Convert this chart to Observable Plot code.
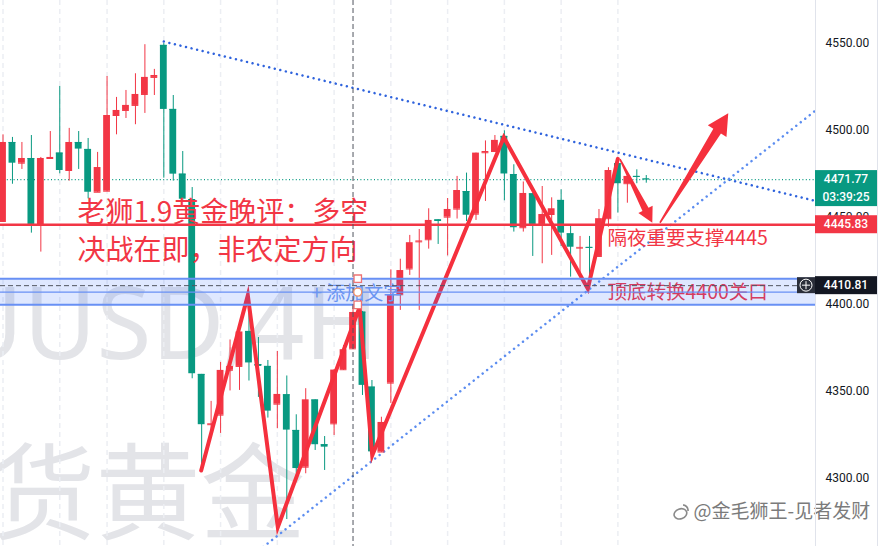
<!DOCTYPE html>
<html>
<head>
<meta charset="utf-8">
<script src="https://cdn.jsdelivr.net/npm/d3@7"></script>
<script src="https://cdn.jsdelivr.net/npm/@observablehq/plot@0.6"></script>
<style>
  html, body { margin: 0; padding: 0; background: #ffffff; overflow: hidden; }
  #chart svg { display: block; }
</style>
</head>
<body>
<div id="chart"></div>
<script>
// ---- XAUUSD 4H candles (bar index = position in arrays) ----
const opens  = [4447.7,4493.1,4481.2,4483.9,4445.6,4483.9,4487.0,4477.0,4493.1,4489.1,
                4464.5,4465.1,4508.6,4511.5,4514.4,4520.7,4530.5,4548.9,4512.1,4474.9,
                4460.3,4359.8,4330.9,4336.4,4362.2,4364.4,4384.5,4365.5,4364.4,4342.7,
                4348.1,4327.6,4306.5,4345.1,4319.4,4331.4,4362.5,4374.5,4395.6,4352.5,
                4315.2,4354.8,4405.6,4420.4,4436.0,4437.2,4448.6,4450.2,4454.8,4464.9,
                4451.9,4487.2,4487.9,4496.6,4474.7,4444.1,4463.6,4446.0,4451.7,4459.8,
                4440.6,4432.4,4432.8,4427.6,4449.3,4480.9,4469.4,4473.6,4472.1];
const highs  = [4497.5,4496.0,4493.1,4497.1,4484.5,4499.4,4525.3,4501.2,4499.4,4495.4,
                4487.4,4531.0,4519.0,4523.0,4532.6,4549.3,4535.1,4550.0,4520.1,4487.9,
                4467.2,4359.8,4344.3,4366.7,4379.6,4387.4,4399.4,4381.0,4367.8,4373.0,
                4358.9,4336.6,4351.6,4345.2,4324.1,4362.5,4376.4,4398.9,4396.0,4356.3,
                4335.2,4419.9,4426.0,4439.7,4443.1,4455.0,4448.7,4460.9,4473.6,4475.5,
                4487.0,4494.0,4497.1,4499.8,4480.3,4470.4,4464.0,4467.8,4461.3,4465.9,
                4445.4,4439.1,4439.1,4454.6,4478.6,4482.8,4474.1,4477.4,4474.1];
const lows   = [4447.1,4469.1,4477.6,4441.0,4430.1,4483.6,4475.1,4470.9,4477.6,4460.7,
                4464.4,4464.9,4497.5,4506.9,4503.3,4509.8,4520.1,4472.6,4470.9,4459.8,
                4357.3,4303.6,4323.7,4325.9,4350.3,4350.6,4356.0,4346.6,4334.7,4328.6,
                4276.4,4302.7,4302.7,4316.1,4304.6,4324.7,4362.1,4374.1,4347.7,4310.1,
                4314.9,4343.1,4396.6,4416.7,4396.6,4431.8,4434.5,4427.9,4449.1,4447.7,
                4448.3,4459.2,4487.6,4459.6,4441.6,4441.6,4427.6,4423.4,4428.2,4433.3,
                4415.7,4415.7,4413.8,4427.3,4444.4,4452.5,4458.2,4469.4,4469.7];
const closes = [4493.1,4481.2,4483.9,4446.0,4483.9,4484.5,4477.0,4493.1,4489.3,4464.5,
                4478.7,4508.6,4511.5,4514.4,4520.7,4530.5,4531.6,4512.1,4474.9,4460.5,
                4360.2,4330.9,4331.4,4362.1,4364.4,4384.2,4366.4,4364.4,4338.7,4348.3,
                4327.8,4305.7,4345.2,4319.4,4318.0,4362.3,4374.0,4395.4,4353.5,4315.3,
                4332.2,4405.2,4419.5,4435.5,4436.5,4448.3,4447.7,4454.6,4465.5,4451.3,
                4487.0,4487.9,4494.3,4475.0,4444.1,4463.8,4446.0,4451.7,4455.0,4441.0,
                4432.9,4432.8,4432.4,4449.3,4477.0,4469.4,4473.6,4473.1,4471.77];

// ---- price axis ----
const yTicks = [4300, 4350, 4400, 4450, 4500, 4550];
const lastPrice = 4471.77;
const countdown = "03:39:25";
const supportPrice = 4445.83;
const crossPrice = 4410.81;
const crossBar = 37;
const gridBars = [0, 6, 11, 17, 23, 29, 35, 41, 47, 53, 59, 65];

// ---- drawings ----
const descTrendBars   = [17, 85.9];
const descTrendPrices = [4551.1, 4459.5];
const ascTrendBars    = [27.5, 85.9];
const ascTrendPrices  = [4260.6, 4511.5];
const zigBars   = [20.95, 25.88, 29.05, 37.69, 39.03, 52.94, 61.82, 64.99];
const zigPrices = [4304.6, 4405.2, 4272.0, 4398.4, 4313.2, 4496.1, 4409.0, 4483.7];
const arrowTailBars   = [65.27, 69.5];
const arrowTailPrices = [4483.2, 4446.7];
const arrowTipBars    = [68.69, 76.72];
const arrowTipPrices  = [4446.7, 4509.6];
const zoneLow = 4399.8, zoneMid = 4407.1, zoneHigh = 4414.8;
const handleBar = 37.5;

// ---- texts ----
const headline = ["老狮1.9黄金晚评：多空", "决战在即，非农定方向"];
const headlineBar = 7.875;
const headlinePrices = [4452.3, 4430.6];
const notes = ["隔夜重要支撑4445", "顶底转换4400关口"];
const noteBar = 63.9;
const notePrices = [4437.9, 4406.6];
const zonePlaceholder = "+ 添加文字";
const placeholderBar = 32.61;
const placeholderPrice = 4406.3;
const symbolMark = "XAUUSD,4H";
const symbolMarkBar = 39.7, symbolMarkPrice = 4386.8;
const descMark = "现货黄金";
const descMarkBar = 31.98, descMarkPrice = 4289.4;
const credit = "@金毛狮王-见者发财";
const creditBar = 73.0, creditPrice = 4280.5;

// ---- styling ----
const UP = "#f23645", DOWN = "#089981";
const CJK = "'Noto Sans CJK SC', 'Noto Sans', sans-serif";
const W = 882, H = 546, PANE_R = 67;
const BAR_PX = 9.46, FIRST_PX = 2.5;
const xDomain = [-FIRST_PX / BAR_PX, (W - PANE_R - FIRST_PX) / BAR_PX];
const yDomain = [4260.9, 4574.7];

const candles = opens.map((o, i) => ({i, o, h: highs[i], l: lows[i], c: closes[i]}));
const ups = candles.filter(d => d.c >= d.o);
const downs = candles.filter(d => d.c < d.o);
const pts = (bars, prices) => bars.map((b, k) => ({b, p: prices[k]}));
const BW = 0.36;

function candleMarks(data, color) {
  return [
    Plot.ruleX(data, {x: "i", y1: "l", y2: "h", stroke: color, strokeWidth: 1}),
    Plot.rect(data, {x1: d => d.i - BW, x2: d => d.i + BW, y1: "o", y2: "c", fill: color}),
    Plot.ruleY(data, {y: "o", x1: d => d.i - BW, x2: d => d.i + BW, stroke: color, strokeWidth: 1})
  ];
}

const dotted = {strokeWidth: 2.5, strokeDasharray: "0.01 5.7", strokeLinecap: "round", clip: true};

const chart = Plot.plot({
  width: W, height: H,
  marginLeft: 0, marginRight: PANE_R, marginTop: 0, marginBottom: 0,
  style: {background: "#ffffff", fontFamily: "Roboto, 'Liberation Sans', sans-serif", fontSize: "12px", color: "#131722"},
  x: {domain: xDomain, axis: null},
  y: {domain: yDomain, axis: "right", ticks: yTicks, tickFormat: d => d.toFixed(2), tickSize: 0, tickPadding: 10, label: null},
  marks: [
    // background watermark
    Plot.text([symbolMark], {x: () => symbolMarkBar, y: () => symbolMarkPrice, text: d => d, fontSize: 100,
      fontFamily: "'Noto Sans', sans-serif", textAnchor: "end", fill: "#e3e4e8"}),
    Plot.text([descMark], {x: () => descMarkBar, y: () => descMarkPrice, text: d => d, fontSize: 105,
      fontFamily: CJK, textAnchor: "end", fill: "#e3e4e8"}),
    // time grid
    Plot.ruleX(gridBars, {stroke: "#eceef3", strokeWidth: 1.5, strokeDasharray: "5 4"}),
    // last price line
    Plot.ruleY([lastPrice], {stroke: DOWN, strokeWidth: 1.2, strokeDasharray: "1 2.4"}),
    // trend lines
    Plot.line(pts(descTrendBars, descTrendPrices), {x: "b", y: "p", stroke: "#2f63dd", ...dotted}),
    Plot.line(pts(ascTrendBars, ascTrendPrices), {x: "b", y: "p", stroke: "#5c8df0", ...dotted}),
    // candles
    ...candleMarks(ups, UP),
    ...candleMarks(downs, DOWN),
    // support line
    Plot.ruleY([supportPrice], {stroke: UP, strokeWidth: 2.6}),
    // swing path
    Plot.line(pts(zigBars, zigPrices), {x: "b", y: "p", stroke: "#f5303d", strokeWidth: 4, strokeLinejoin: "miter", strokeMiterlimit: 10}),
    // annotations
    Plot.text(headline, {x: () => headlineBar, y: (d, k) => headlinePrices[k], text: d => d, fontSize: 28,
      fontFamily: CJK, textAnchor: "start", fill: UP}),
    Plot.text(notes, {x: () => noteBar, y: (d, k) => notePrices[k], text: d => d, fontSize: 19.5,
      fontFamily: CJK, textAnchor: "start", fill: UP}),
    // price zone
    Plot.rect([0], {x1: () => xDomain[0], x2: () => xDomain[1], y1: () => zoneLow, y2: () => zoneHigh, fill: "#2962ff", fillOpacity: 0.15}),
    Plot.ruleY([zoneLow, zoneHigh], {stroke: "#6890f4", strokeWidth: 2}),
    Plot.ruleY([zoneMid], {stroke: "#6890f4", strokeWidth: 1.3}),
    Plot.text([zonePlaceholder], {x: () => placeholderBar, y: () => placeholderPrice, text: d => d, fontSize: 19,
      fontFamily: CJK, textAnchor: "start", fill: "#6a94f2"}),
    // crosshair
    Plot.ruleX([crossBar], {stroke: "#50535e", strokeWidth: 1, strokeDasharray: "5 3"}),
    Plot.ruleY([crossPrice], {stroke: "#50535e", strokeWidth: 1, strokeDasharray: "5 3"}),
    // selection handles on the zone
    Plot.dot([zoneLow, zoneHigh], {x: () => handleBar, y: d => d, symbol: "square", r: 4.2, fill: "#ffffff", stroke: "#ee7373", strokeWidth: 1.3}),
    Plot.dot([zoneMid], {x: () => handleBar, y: d => d, symbol: "circle", r: 4, fill: "#ffffff", stroke: "#f39064", strokeWidth: 1.3}),
    // author credit
    Plot.text([credit], {x: () => creditBar, y: () => creditPrice, text: d => d, fontSize: 19,
      fontFamily: CJK, textAnchor: "start", fill: "#7b7b7b", stroke: "#ffffff", strokeWidth: 3})
  ]
});

document.getElementById("chart").appendChild(chart);

// ---- overlays drawn with the plot's own scales ----
const sx = chart.scale("x"), sy = chart.scale("y");
const svg = d3.select(chart);
const paneRight = W - PANE_R;

function arrowPath(t, p, headLen, headHalf, shaftHalf, tailHalf) {
  const dx = p[0] - t[0], dy = p[1] - t[1], L = Math.hypot(dx, dy);
  const ux = dx / L, uy = dy / L, nx = -uy, ny = ux;
  const bx = p[0] - ux * headLen, by = p[1] - uy * headLen;
  const q = [
    [t[0] + nx * tailHalf, t[1] + ny * tailHalf],
    [bx + nx * shaftHalf, by + ny * shaftHalf],
    [bx + nx * headHalf, by + ny * headHalf],
    p,
    [bx - nx * headHalf, by - ny * headHalf],
    [bx - nx * shaftHalf, by - ny * shaftHalf],
    [t[0] - nx * tailHalf, t[1] - ny * tailHalf]
  ];
  return "M" + q.map(d => d.join(",")).join("L") + "Z";
}
const arrowSizes = [[15, 8, 3.4, 0.8], [21, 11, 4.5, 0.8]];
arrowTailBars.forEach((b, k) => {
  const t = [sx.apply(b), sy.apply(arrowTailPrices[k])];
  const p = [sx.apply(arrowTipBars[k]), sy.apply(arrowTipPrices[k])];
  const [hl, hh, sh, th] = arrowSizes[k];
  svg.append("path").attr("d", arrowPath(t, p, hl, hh, sh, th)).attr("fill", "#f5303d");
});

// pane border lines
svg.append("line").attr("x1", paneRight + 0.5).attr("x2", paneRight + 0.5).attr("y1", 0).attr("y2", H)
  .attr("stroke", "#e0e3eb");
svg.append("line").attr("x1", W - 4.5).attr("x2", W - 4.5).attr("y1", 0).attr("y2", H)
  .attr("stroke", "#e0e3eb");

// price labels on the axis
function priceTag(value, fill, lines) {
  const yc = sy.apply(value);
  const h = 18, extra = (lines.length - 1) * 18;
  svg.append("rect").attr("x", paneRight).attr("y", yc - h / 2).attr("width", 62).attr("height", h + extra)
    .attr("fill", fill);
  lines.forEach((s, k) => {
    svg.append("text").attr("x", paneRight + 31).attr("y", yc + k * 18).attr("dy", "0.35em")
      .attr("text-anchor", "middle").attr("fill", "#ffffff")
      .attr("font-family", "Roboto, 'Liberation Sans', sans-serif").attr("font-size", 12).attr("font-weight", 500)
      .text(s);
  });
}
priceTag(lastPrice, DOWN, [lastPrice.toFixed(2), countdown]);
priceTag(supportPrice, UP, [supportPrice.toFixed(2)]);
priceTag(crossPrice, "#131722", [crossPrice.toFixed(2)]);

// crosshair "add" button
{
  const yc = sy.apply(crossPrice);
  svg.append("rect").attr("x", paneRight - 18).attr("y", yc - 8).attr("width", 18).attr("height", 16).attr("fill", "#2a2e39");
  svg.append("circle").attr("cx", paneRight - 9).attr("cy", yc).attr("r", 6).attr("fill", "none").attr("stroke", "#ffffff").attr("stroke-width", 1);
  svg.append("path").attr("d", `M${paneRight - 13},${yc}H${paneRight - 5}M${paneRight - 9},${yc - 4}V${yc + 4}`)
    .attr("stroke", "#ffffff").attr("stroke-width", 1);
}

// credit icon
{
  const cx = sx.apply(creditBar) - 13, cy = sy.apply(creditPrice) + 1;
  const g = svg.append("g").attr("fill", "none").attr("stroke", "#8a8a8a").attr("stroke-width", 1.6);
  g.append("ellipse").attr("cx", cx).attr("cy", cy + 1).attr("rx", 6.5).attr("ry", 5).attr("transform", `rotate(-20 ${cx} ${cy})`);
  g.append("path").attr("d", `M${cx + 3},${cy - 8} q5,1 5,6`);
}
</script>
</body>
</html>
